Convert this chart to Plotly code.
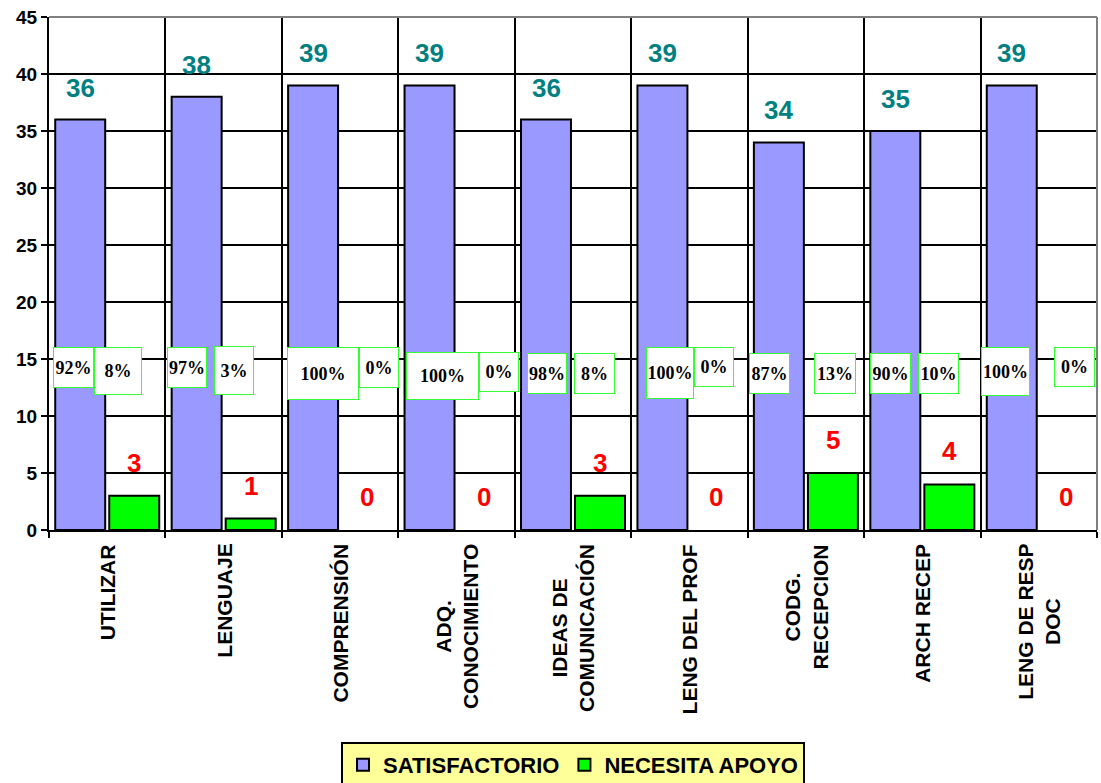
import plotly.graph_objects as go

# ---- data ----
categories = ["UTILIZAR", "LENGUAJE", "COMPRENSIÓN", "ADQ.<br>CONOCIMIENTO",
              "IDEAS DE<br>COMUNICACIÓN", "LENG DEL PROF", "CODG.<br>RECEPCION",
              "ARCH RECEP", "LENG DE RESP<br>DOC"]
satisfactorio = [36, 38, 39, 39, 36, 39, 34, 35, 39]
necesita_apoyo = [3, 1, 0, 0, 3, 0, 5, 4, 0]
pct_satisfactorio = ["92%", "97%", "100%", "100%", "98%", "100%", "87%", "90%", "100%"]
pct_necesita = ["8%", "3%", "0%", "0%", "8%", "0%", "13%", "10%", "0%"]
y_ticks = [0, 5, 10, 15, 20, 25, 30, 35, 40, 45]

# ---- layout helpers (pixel offsets / sizes for the percentage boxes) ----
# (xshift, y value of box centre, width, height)
box_sat = [(-34, 14.25, 41, 41), (-37, 14.25, 40, 41), (-17, 13.7, 72, 53),
           (-14, 13.5, 73, 48), (-26, 13.7, 40, 41), (-19, 13.75, 48, 52),
           (-36, 13.7, 41, 41), (-32, 13.7, 41, 41), (-33, 13.9, 49, 49)]
box_nec = [(11, 13.95, 48, 48), (10, 14.0, 40, 49), (39, 14.25, 40, 41),
           (42, 13.9, 40, 40), (21, 13.7, 41, 41), (25, 14.3, 40, 40),
           (29, 13.7, 42, 41), (16, 13.7, 41, 41), (36, 14.3, 41, 40)]

SANS = "Liberation Sans, Arial, sans-serif"
SERIF = "Liberation Serif, Times New Roman, serif"

fig = go.Figure()
fig.add_trace(go.Bar(
    name="SATISFACTORIO", x=categories, y=satisfactorio,
    marker=dict(color="#9999FF",
                line=dict(color="black", width=[2 if v > 0 else 0 for v in satisfactorio])),
))
fig.add_trace(go.Bar(
    name="NECESITA APOYO", x=categories, y=necesita_apoyo,
    marker=dict(color="#00FF00",
                line=dict(color="black", width=[2 if v > 0 else 0 for v in necesita_apoyo])),
))

annotations = []
for c, v in zip(categories, satisfactorio):
    annotations.append(dict(x=c, y=v, xref="x", yref="y", text=str(v), showarrow=False,
                            xshift=-27, yshift=32, yanchor="middle",
                            font=dict(family=SANS, size=26, color="#008080", weight="bold")))
for c, v in zip(categories, necesita_apoyo):
    annotations.append(dict(x=c, y=v, xref="x", yref="y", text=str(v), showarrow=False,
                            xshift=27, yshift=33, yanchor="middle",
                            font=dict(family=SANS, size=26, color="#FF0000", weight="bold")))
for c, t, b in zip(categories, pct_satisfactorio, box_sat):
    annotations.append(dict(x=c, y=b[1], xref="x", yref="y", text=t, showarrow=False,
                            xshift=b[0], width=b[2] - 2, height=b[3] - 2,
                            bgcolor="white", bordercolor="#33FF33", borderwidth=1, borderpad=0,
                            font=dict(family=SERIF, size=18, color="black", weight="bold")))
for c, t, b in zip(categories, pct_necesita, box_nec):
    annotations.append(dict(x=c, y=b[1], xref="x", yref="y", text=t, showarrow=False,
                            xshift=b[0], width=b[2] - 2, height=b[3] - 2,
                            bgcolor="white", bordercolor="#33FF33", borderwidth=1, borderpad=0,
                            font=dict(family=SERIF, size=18, color="black", weight="bold")))
# category labels, rotated, centred multi-line text
for c in categories:
    annotations.append(dict(x=c, y=0, xref="x", yref="y", text=c, showarrow=False,
                            textangle=-90, xanchor="center", yanchor="top", yshift=-12,
                            align="center",
                            font=dict(family=SANS, size=21, color="black", weight="bold")))

fig.update_layout(
    width=1101, height=783,
    margin=dict(l=49, r=4, t=17, b=253, autoexpand=False),
    paper_bgcolor="white", plot_bgcolor="white",
    barmode="group", bargap=0.072, bargroupgap=0.075,
    font=dict(family=SANS, color="black"),
    showlegend=True,
    legend=dict(orientation="h", x=0.5, xanchor="center", y=-0.413, yanchor="top",
                bgcolor="#FFFF99", bordercolor="black", borderwidth=2,
                font=dict(family=SANS, size=22, color="black", weight="bold"),
                itemclick=False),
    annotations=annotations,
    shapes=[
        dict(type="line", xref="paper", yref="paper", x0=0, x1=1, y0=1, y1=1,
             line=dict(color="#808080", width=2), layer="above"),
        dict(type="line", xref="paper", yref="paper", x0=1, x1=1, y0=0, y1=1,
             line=dict(color="#808080", width=2), layer="above"),
    ],
)
fig.update_xaxes(
    type="category", tickson="boundaries", showgrid=True, gridcolor="black", gridwidth=2,
    ticks="outside", ticklen=6, tickwidth=2, tickcolor="black",
    showline=True, linecolor="black", linewidth=2,
    showticklabels=False,
    automargin=False,
)
fig.update_yaxes(
    range=[0, 45], tickvals=y_ticks, showgrid=True, gridcolor="black", gridwidth=2,
    zeroline=False, ticks="outside", ticklen=6, tickwidth=2, tickcolor="black",
    showline=True, linecolor="black", linewidth=2,
    tickfont=dict(family=SANS, size=19, color="black", weight="bold"),
    automargin=False,
)

fig.write_html("out.html",
               config={"displayModeBar": False, "staticPlot": False},
               post_script="document.body.style.margin='0';document.body.style.overflow='hidden';")
